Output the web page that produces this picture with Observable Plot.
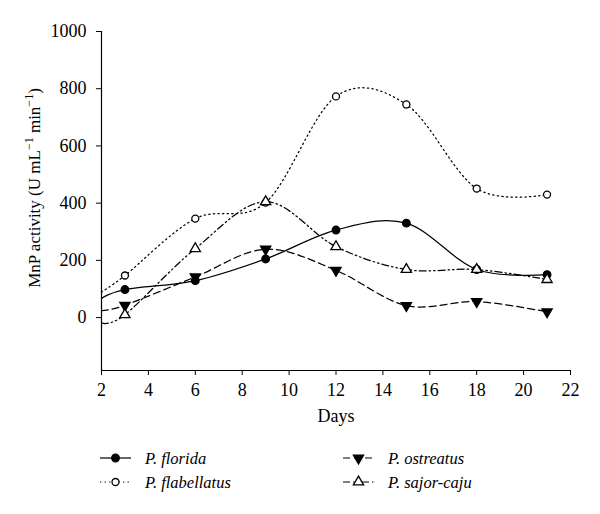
<!DOCTYPE html>
<html>
<head>
<meta charset="utf-8">
<script src="https://cdn.jsdelivr.net/npm/d3@7"></script>
<script src="https://cdn.jsdelivr.net/npm/@observablehq/plot@0.6"></script>
<style>
  html, body { margin: 0; padding: 0; background: #fff; }
  #chart { width: 600px; }
  svg text { font-family: "Liberation Serif", "DejaVu Serif", serif; }
</style>
</head>
<body>
<div id="chart"></div>
<script>
// ---- data ----
const seriesNames = ["P. florida", "P. flabellatus", "P. ostreatus", "P. sajor-caju"];
const days = [3, 6, 9, 12, 15, 18, 21];
const florida = [98, 129, 205, 306, 330, 168, 150];
const flabellatus = [147, 346, 402, 773, 745, 451, 430];
const ostreatus = [43, 142, 239, 165, 42, 56, 20];
const sajorCaju = [10, 241, 405, 248, 168, 168, 133];
// where the smoothed curves meet the left axis (day 2)
const curveStartDay = 2;
const curveStartValues = [67, 90, 24, -18];
const xTicks = [2, 4, 6, 8, 10, 12, 14, 16, 18, 20, 22];
const yTicks = [0, 200, 400, 600, 800, 1000];
const xDomain = [2, 22];
const yDomain = [-185, 1000];

// ---- styles ----
const seriesValues = [florida, flabellatus, ostreatus, sajorCaju];
const styles = [
  {dash: null, symbol: "circle", fill: "black", r: 3.8, rotate: 0},
  {dash: "1.3,3.3", symbol: "circle", fill: "white", r: 3.5, rotate: 0},
  {dash: "7,4", symbol: "triangle", fill: "black", r: 3.8, rotate: 180},
  {dash: "7,3,1.5,3,1.5,3", symbol: "triangle", fill: "white", r: 3.8, rotate: 0}
];

const lineMarks = [];
const dotMarks = [];
seriesNames.forEach((name, i) => {
  const pts = days.map((d, j) => ({day: d, value: seriesValues[i][j], series: name}));
  const linePts = [{day: curveStartDay, value: curveStartValues[i], series: name}, ...pts];
  const st = styles[i];
  lineMarks.push(Plot.line(linePts, {
    x: "day", y: "value", curve: "cardinal",
    stroke: "black", strokeWidth: 1.25,
    strokeDasharray: st.dash || undefined
  }));
  dotMarks.push(Plot.dot(pts, {
    x: "day", y: "value", symbol: () => st.symbol, r: st.r,
    rotate: st.rotate, fill: st.fill, stroke: "black", strokeWidth: 1.3
  }));
});

const plot = Plot.plot({
  width: 600,
  height: 440,
  marginLeft: 101,
  marginRight: 30,
  marginTop: 31,
  marginBottom: 70,
  style: {fontFamily: "Liberation Serif", fontSize: "18px", color: "black", background: "white"},
  x: {domain: xDomain},
  y: {domain: yDomain},
  symbol: {type: "identity"},
  marks: [
    Plot.axisX({ticks: xTicks, tickSize: 5, tickPadding: 8, fontSize: 18, label: null, stroke: "black", tickFormat: d3.format("d")}),
    Plot.axisY({ticks: yTicks, tickSize: 5, tickPadding: 10, fontSize: 18, label: null, stroke: "black", tickFormat: d3.format("d")}),
    Plot.ruleX([xDomain[0]], {stroke: "black", strokeWidth: 1.2}),
    Plot.ruleY([yDomain[0]], {stroke: "black", strokeWidth: 1.2}),
    Plot.text(["Days"], {frameAnchor: "bottom", dy: 51, fontSize: 18, fill: "black"}),
    ...lineMarks,
    ...dotMarks
  ]
});
document.getElementById("chart").appendChild(plot);

// y-axis label with superscripts
const svg = d3.select(plot);
const yl = svg.append("text")
  .attr("transform", "translate(40,188) rotate(-90)")
  .attr("text-anchor", "middle")
  .attr("font-size", 17)
  .attr("fill", "black")
  .style("font-family", "Liberation Serif");
yl.append("tspan").text("MnP activity (U mL");
yl.append("tspan").attr("dy", -7).attr("font-size", 12).text("\u22121");
yl.append("tspan").attr("dy", 7).text(" min");
yl.append("tspan").attr("dy", -7).attr("font-size", 12).text("\u22121");
yl.append("tspan").attr("dy", 7).text(")");

// legend
const legendPos = [
  {x: 100, y: 18}, {x: 100, y: 42}, {x: 343, y: 18}, {x: 343, y: 42}
];
const leg = d3.select("#chart").append("svg")
  .attr("width", 600).attr("height", 74).style("display", "block");
seriesNames.forEach((name, i) => {
  const p = legendPos[i], st = styles[i];
  const g = leg.append("g").attr("transform", `translate(${p.x},${p.y})`);
  g.append("line").attr("x1", 0).attr("x2", 31).attr("y1", 0).attr("y2", 0)
    .attr("stroke", "black").attr("stroke-width", 1.2)
    .attr("stroke-dasharray", st.dash || null);
  const sym = st.symbol === "circle" ? d3.symbolCircle : d3.symbolTriangle;
  const area = Math.PI * st.r * st.r;
  g.append("path").attr("d", d3.symbol(sym, area)())
    .attr("transform", `translate(15.5,0) rotate(${st.rotate})`)
    .attr("fill", st.fill).attr("stroke", "black").attr("stroke-width", 1.3);
  g.append("text").attr("x", 45).attr("y", 5.5)
    .attr("font-size", 16.5).attr("font-style", "italic").attr("fill", "black")
    .style("font-family", "Liberation Serif")
    .text(name);
});
</script>
</body>
</html>
